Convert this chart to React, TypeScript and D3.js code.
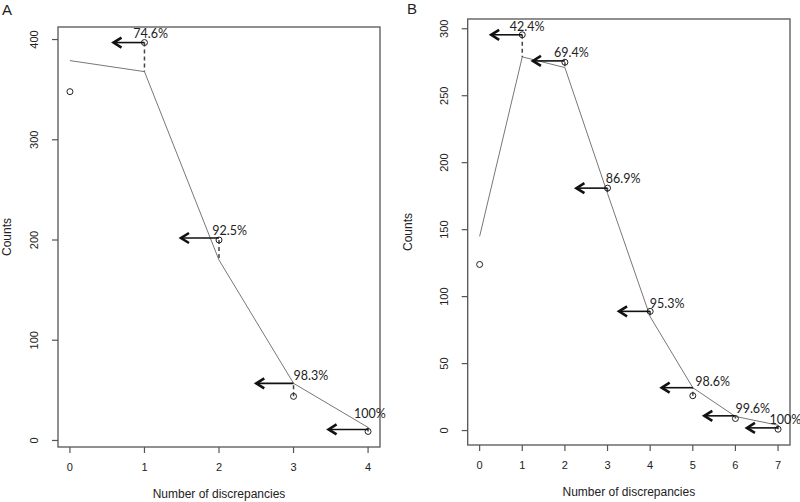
import React from "react";
import * as d3 from "d3";

// Panel A data
const aX = [0, 1, 2, 3, 4];
const aCounts = [348, 397, 200, 44, 9];
const aFitted = [379, 368, 180, 57, 13];
const aPct = ["74.6%", "92.5%", "98.3%", "100%"];
const aArrowY = [397, 202, 57, 11];
const aArrowTail = [0.585, 1.49, 2.5, 3.47];
const aLabelX = [0.85, 1.91, 3.0, 3.81];
const aLabelY = [402, 205, 60, 22.5];
const aYTicks = [0, 100, 200, 300, 400];

// Panel B data
const bX = [0, 1, 2, 3, 4, 5, 6, 7];
const bCounts = [124, 295.5, 275, 181, 89, 26, 9, 1];
const bFitted = [145, 279, 271, 177, 85, 32, 10.5, 4];
const bPct = ["42.4%", "69.4%", "86.9%", "95.3%", "98.6%", "99.6%", "100%"];
const bArrowY = [295.5, 276, 181, 89, 32, 11, 2];
const bArrowTail = [0.27, 1.25, 2.27, 3.27, 4.27, 5.27, 6.27];
const bLabelX = [0.705, 1.747, 2.96, 3.99, 5.06, 6.0, 6.8];
const bLabelY = [298.5, 278.7, 184.6, 91.3, 33.3, 13.0, 4.9];
const bYTicks = [0, 50, 100, 150, 200, 250, 300];

type PanelProps = {
  letter: string;
  letterX: number;
  letterY: number;
  box: { x0: number; x1: number; y0: number; y1: number };
  xs: number[];
  counts: number[];
  fitted: number[];
  pct: string[];
  arrowY: number[];
  arrowTail: number[];
  labelX: number[];
  labelY: number[];
  yTicks: number[];
  countsOffset: number;
};

const axisFont = "'Liberation Sans', Arial, sans-serif";
const labelFont = "Lato, 'Open Sans', sans-serif";

function Panel(p: PanelProps) {
  const xmin = d3.min(p.xs)!;
  const xmax = d3.max(p.xs)!;
  const xr = xmax - xmin;
  const ymin = d3.min(p.counts)!;
  const ymax = d3.max(p.counts)!;
  const yr = ymax - ymin;
  const x = d3
    .scaleLinear()
    .domain([xmin - 0.04 * xr, xmax + 0.04 * xr])
    .range([p.box.x0, p.box.x1]);
  const y = d3
    .scaleLinear()
    .domain([ymin - 0.04 * yr, ymax + 0.04 * yr])
    .range([p.box.y1, p.box.y0]);
  const line = d3
    .line<number>()
    .x((_, i) => x(p.xs[i]))
    .y((d) => y(d));
  const boxColor = "#555";
  const midX = (p.box.x0 + p.box.x1) / 2;
  const midY = (p.box.y0 + p.box.y1) / 2;
  const ah = 8;
  const aw = 5;
  return (
    <g>
      <text
        x={p.letterX}
        y={p.letterY}
        fontFamily={axisFont}
        fontSize={15}
        fill="#222"
      >
        {p.letter}
      </text>
      <rect
        x={p.box.x0}
        y={p.box.y0}
        width={p.box.x1 - p.box.x0}
        height={p.box.y1 - p.box.y0}
        fill="none"
        stroke={boxColor}
        strokeWidth={1.3}
      />
      {/* x axis */}
      {p.xs.map((v) => (
        <g key={"xt" + v}>
          <line
            x1={x(v)}
            x2={x(v)}
            y1={p.box.y1}
            y2={p.box.y1 + 6}
            stroke={boxColor}
            strokeWidth={1.2}
          />
          <text
            x={x(v)}
            y={p.box.y1 + 21}
            textAnchor="middle"
            dominantBaseline="middle"
            fontFamily={axisFont}
            fontSize={11}
            fill="#222"
          >
            {v}
          </text>
        </g>
      ))}
      {/* y axis */}
      {p.yTicks.map((v) => (
        <g key={"yt" + v}>
          <line
            x1={p.box.x0 - 6}
            x2={p.box.x0}
            y1={y(v)}
            y2={y(v)}
            stroke={boxColor}
            strokeWidth={1.2}
          />
          <text
            transform={`translate(${p.box.x0 - 23},${y(v)}) rotate(-90)`}
            textAnchor="middle"
            dominantBaseline="middle"
            fontFamily={axisFont}
            fontSize={11}
            fill="#222"
          >
            {v}
          </text>
        </g>
      ))}
      <text
        x={midX}
        y={p.box.y1 + 48}
        textAnchor="middle"
        dominantBaseline="middle"
        fontFamily={axisFont}
        fontSize={12}
        fill="#222"
      >
        Number of discrepancies
      </text>
      <text
        transform={`translate(${p.box.x0 - p.countsOffset},${midY}) rotate(-90)`}
        textAnchor="middle"
        dominantBaseline="middle"
        fontFamily={axisFont}
        fontSize={12}
        fill="#222"
      >
        Counts
      </text>
      {/* fitted line */}
      <path d={line(p.fitted) || ""} fill="none" stroke="#777" strokeWidth={1} />
      {/* dashed residuals */}
      {p.xs.slice(1).map((v, i) => (
        <line
          key={"dl" + v}
          x1={x(v)}
          x2={x(v)}
          y1={y(p.counts[i + 1])}
          y2={y(p.fitted[i + 1])}
          stroke="#444"
          strokeWidth={1.5}
          strokeDasharray="4,3"
        />
      ))}
      {/* points */}
      {p.xs.map((v, i) => (
        <circle
          key={"pt" + v}
          cx={x(v)}
          cy={y(p.counts[i])}
          r={3}
          fill="none"
          stroke="#222"
          strokeWidth={1}
        />
      ))}
      {/* arrows */}
      {p.xs.slice(1).map((v, i) => {
        const tx = x(p.arrowTail[i]);
        const ay = y(p.arrowY[i]);
        return (
          <g key={"ar" + v}>
            <line
              x1={x(v)}
              x2={tx + 1}
              y1={ay}
              y2={ay}
              stroke="#111"
              strokeWidth={1.6}
            />
            <path
              d={`M${tx + ah},${ay - aw}L${tx},${ay}L${tx + ah},${ay + aw}`}
              fill="none"
              stroke="#111"
              strokeWidth={2.6}
              strokeLinejoin="miter"
            />
          </g>
        );
      })}
      {/* labels */}
      {p.pct.map((s, i) => (
        <text
          key={"lb" + i}
          x={x(p.labelX[i])}
          y={y(p.labelY[i])}
          fontFamily={labelFont}
          fontSize={12.5}
          fill="#222"
        >
          {s}
        </text>
      ))}
    </g>
  );
}

export default function App() {
  return (
    <svg
      width={800}
      height={502}
      style={{ position: "absolute", left: 0, top: 0, background: "#fff" }}
    >
      <rect x={0} y={0} width={800} height={502} fill="#fff" />
      <Panel
        letter="A"
        letterX={2}
        letterY={14.5}
        box={{ x0: 58, x1: 380, y0: 27, y1: 447 }}
        xs={aX}
        counts={aCounts}
        fitted={aFitted}
        pct={aPct}
        arrowY={aArrowY}
        arrowTail={aArrowTail}
        labelX={aLabelX}
        labelY={aLabelY}
        yTicks={aYTicks}
        countsOffset={50}
      />
      <Panel
        letter="B"
        letterX={407}
        letterY={13.5}
        box={{ x0: 467.7, x1: 790, y0: 19, y1: 445 }}
        xs={bX}
        counts={bCounts}
        fitted={bFitted}
        pct={bPct}
        arrowY={bArrowY}
        arrowTail={bArrowTail}
        labelX={bLabelX}
        labelY={bLabelY}
        yTicks={bYTicks}
        countsOffset={59}
      />
    </svg>
  );
}
